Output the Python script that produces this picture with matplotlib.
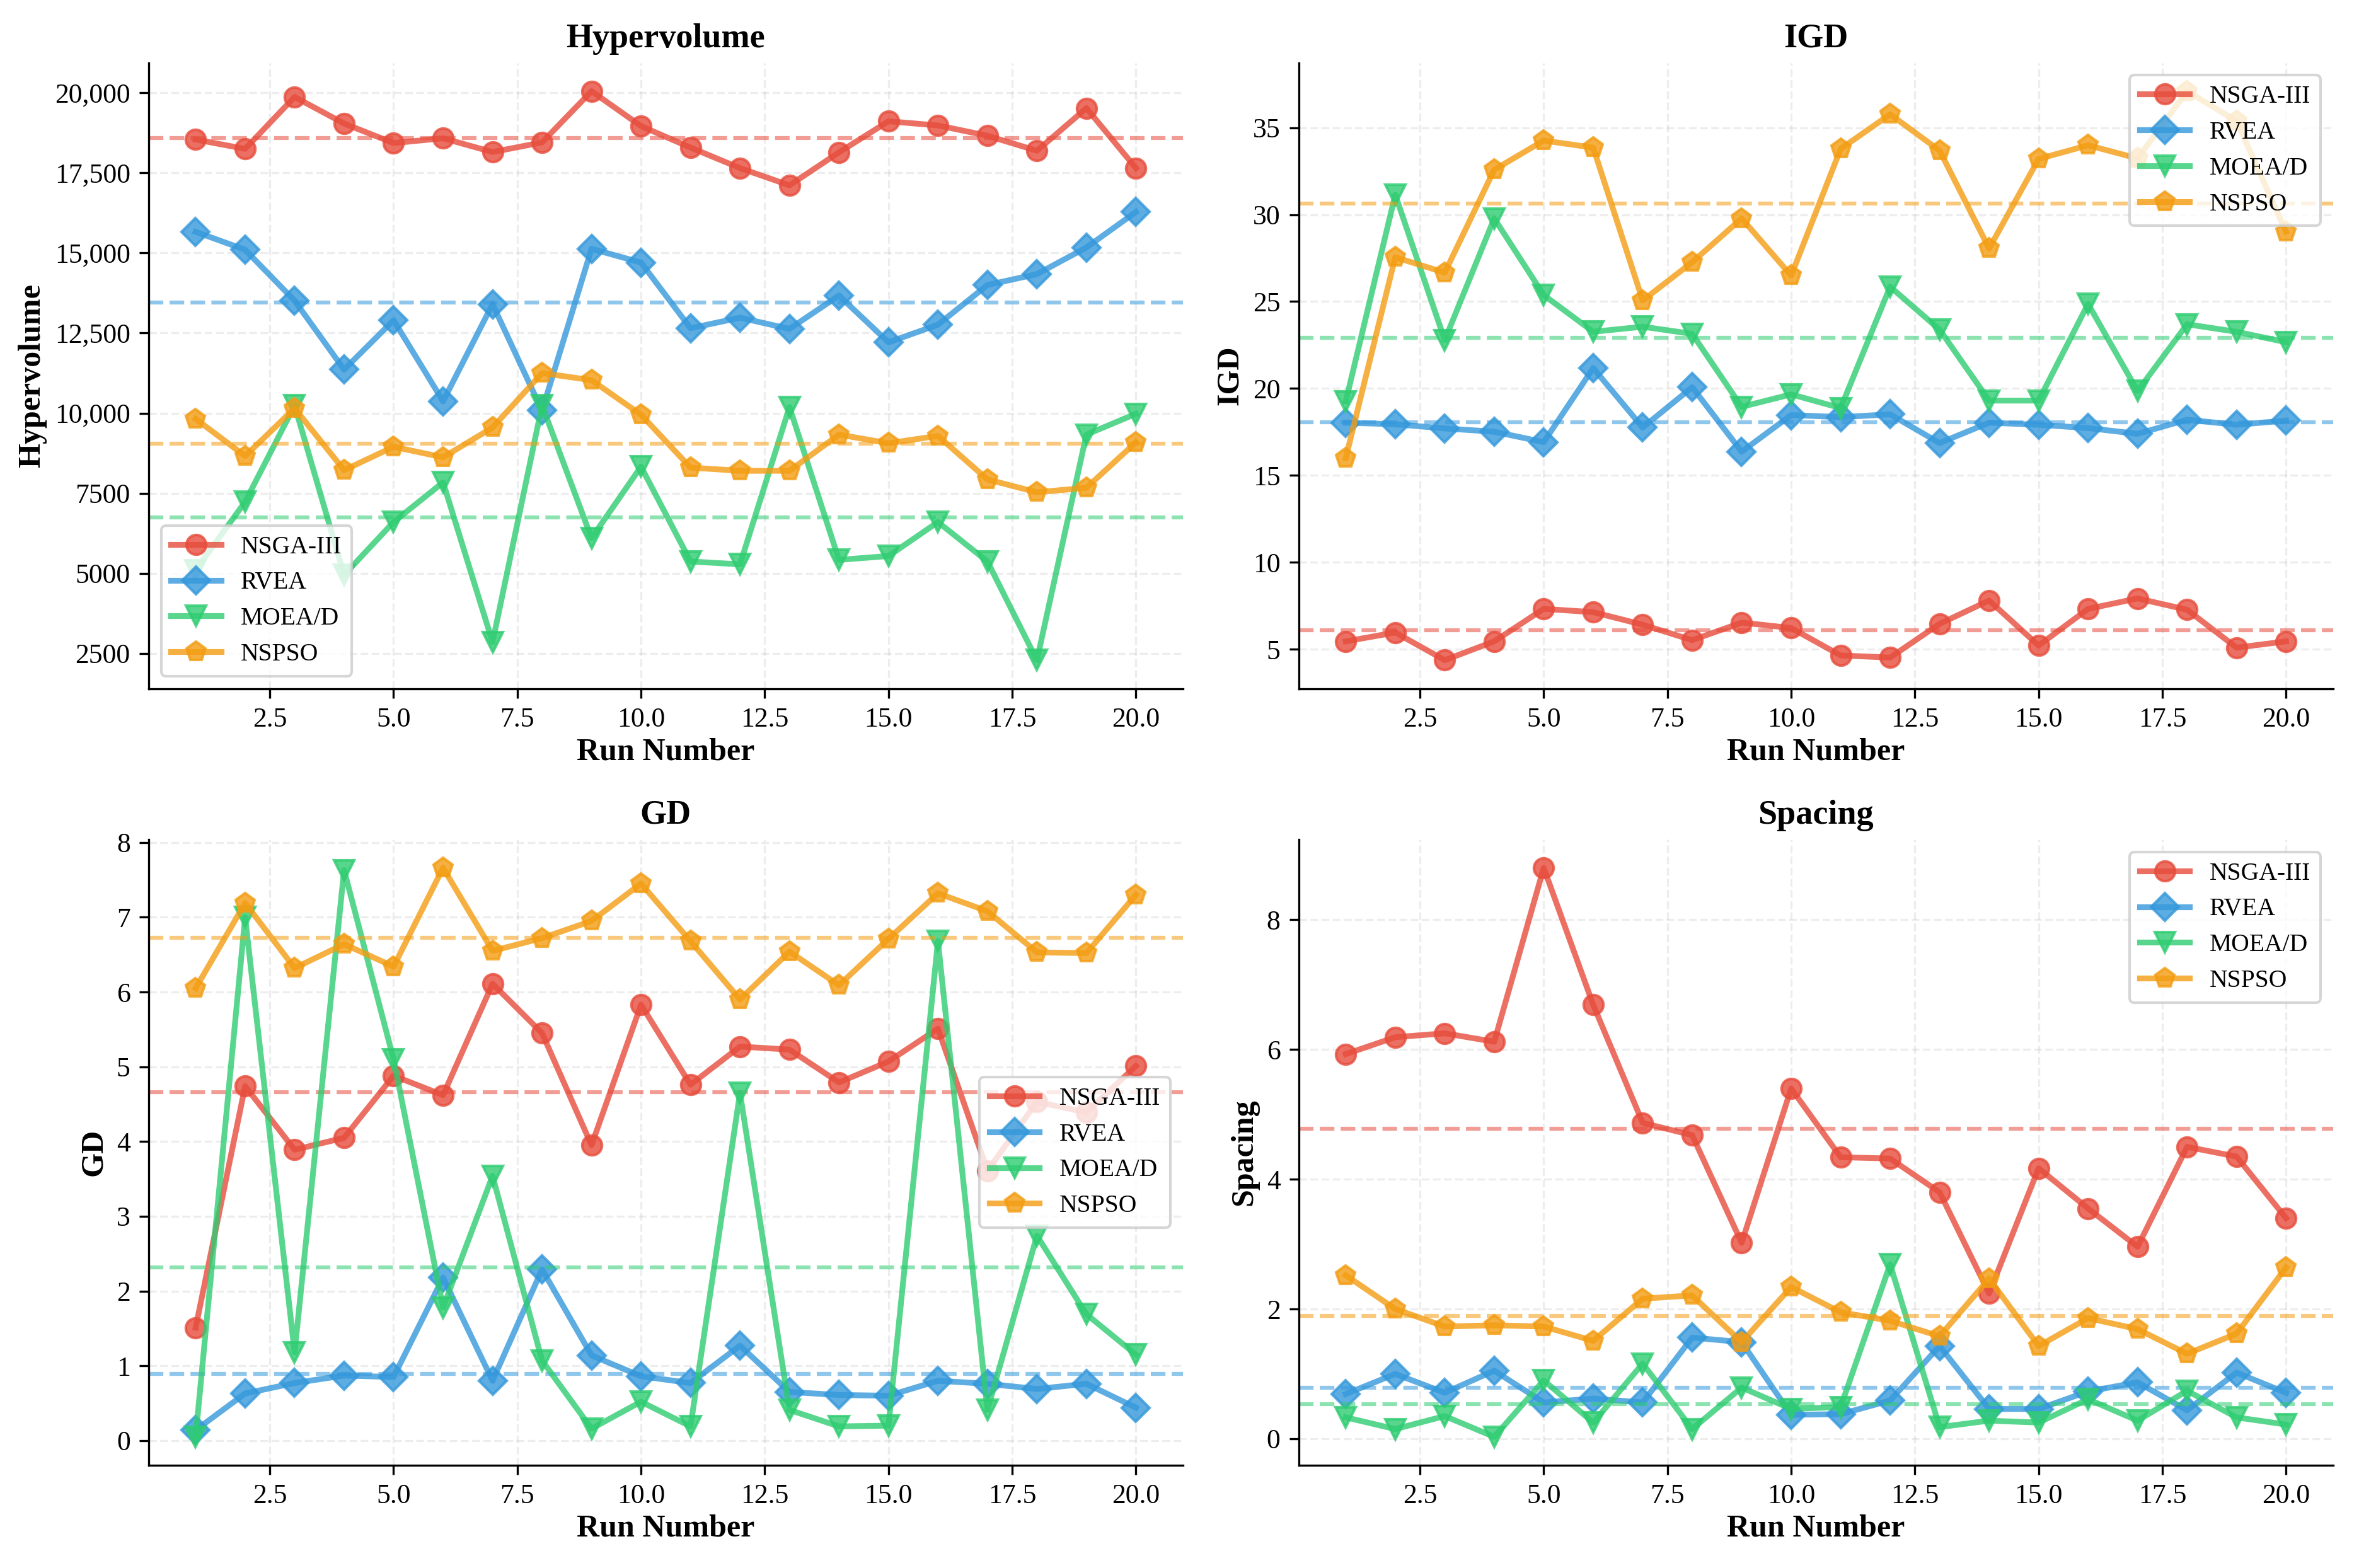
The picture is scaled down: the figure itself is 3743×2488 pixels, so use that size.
import numpy as np
import matplotlib
matplotlib.use("Agg")
import matplotlib.pyplot as plt
from matplotlib.ticker import FuncFormatter

plt.rcParams['font.family'] = ['Liberation Serif', 'DejaVu Serif']

runs = list(range(1, 21))
algorithms = ["NSGA-III", "RVEA", "MOEA/D", "NSPSO"]
colors = ["#e74c3c", "#3498db", "#2ecc71", "#f39c12"]
markers = ["o", "D", "v", "p"]

hv_nsga3 = [18540, 18250, 19870, 19040, 18430, 18580, 18150, 18450, 20050, 18960,
            18290, 17650, 17110, 18140, 19110, 18980, 18660, 18190, 19520, 17650]
hv_rvea = [15660, 15100, 13510, 11360, 12900, 10370, 13400, 10080, 15130, 14700,
           12650, 12980, 12630, 13670, 12210, 12760, 14000, 14340, 15170, 16280]
hv_moead = [5100, 7230, 10240, 4950, 6600, 7840, 2850, 10240, 6100, 8330,
            5370, 5280, 10190, 5420, 5540, 6600, 5370, 2290, 9330, 9980]
hv_nspso = [9820, 8660, 10150, 8220, 8950, 8620, 9550, 11250, 11030, 9950,
            8300, 8200, 8200, 9330, 9060, 9290, 7930, 7530, 7670, 9090]

igd_nsga3 = [5.45, 5.96, 4.37, 5.45, 7.32, 7.13, 6.41, 5.52, 6.53, 6.22,
             4.64, 4.52, 6.46, 7.80, 5.21, 7.32, 7.92, 7.27, 5.09, 5.45]
igd_rvea = [18.03, 17.94, 17.70, 17.51, 16.91, 21.17, 17.75, 20.07, 16.36, 18.47,
            18.35, 18.51, 16.86, 18.03, 17.91, 17.72, 17.39, 18.20, 17.91, 18.15]
igd_moead = [19.26, 31.14, 22.78, 29.78, 25.37, 23.26, 23.55, 23.14, 18.94, 19.66,
             18.87, 25.85, 23.38, 19.30, 19.30, 24.86, 19.85, 23.69, 23.26, 22.66]
igd_nspso = [16.00, 27.55, 26.66, 32.58, 34.26, 33.85, 25.06, 27.26, 29.78, 26.49,
             33.78, 35.77, 33.68, 28.05, 33.20, 33.99, 33.23, 37.10, 35.38, 29.01]

gd_nsga3 = [1.51, 4.74, 3.89, 4.05, 4.88, 4.62, 6.11, 5.45, 3.95, 5.83,
            4.76, 5.27, 5.23, 4.79, 5.07, 5.51, 3.61, 4.53, 4.39, 5.01]
gd_rvea = [0.14, 0.63, 0.77, 0.87, 0.85, 2.18, 0.80, 2.29, 1.14, 0.86,
           0.77, 1.27, 0.65, 0.61, 0.60, 0.80, 0.76, 0.69, 0.76, 0.44]
gd_moead = [0.05, 7.00, 1.18, 7.63, 5.10, 1.78, 3.54, 1.07, 0.16, 0.52,
            0.19, 4.65, 0.41, 0.19, 0.20, 6.68, 0.41, 2.74, 1.69, 1.15]
gd_nspso = [6.05, 7.19, 6.32, 6.64, 6.34, 7.66, 6.55, 6.72, 6.95, 7.45,
            6.68, 5.90, 6.54, 6.09, 6.71, 7.32, 7.08, 6.53, 6.52, 7.30]

sp_nsga3 = [5.93, 6.19, 6.25, 6.12, 8.80, 6.69, 4.87, 4.68, 3.02, 5.40,
            4.34, 4.32, 3.80, 2.24, 4.17, 3.55, 2.96, 4.50, 4.35, 3.40]
sp_rvea = [0.69, 1.00, 0.71, 1.05, 0.56, 0.62, 0.56, 1.56, 1.49, 0.37,
           0.38, 0.59, 1.43, 0.46, 0.46, 0.73, 0.87, 0.44, 1.02, 0.71]
sp_moead = [0.33, 0.15, 0.35, 0.03, 0.90, 0.25, 1.16, 0.15, 0.79, 0.46,
            0.49, 2.69, 0.18, 0.28, 0.25, 0.61, 0.28, 0.74, 0.33, 0.22]
sp_nspso = [2.52, 2.00, 1.73, 1.75, 1.73, 1.51, 2.16, 2.21, 1.49, 2.34,
            1.95, 1.82, 1.58, 2.47, 1.43, 1.86, 1.69, 1.31, 1.62, 2.64]

panels = [
    ("Hypervolume", [hv_nsga3, hv_rvea, hv_moead, hv_nspso], "lower left"),
    ("IGD", [igd_nsga3, igd_rvea, igd_moead, igd_nspso], "upper right"),
    ("GD", [gd_nsga3, gd_rvea, gd_moead, gd_nspso], "center right"),
    ("Spacing", [sp_nsga3, sp_rvea, sp_moead, sp_nspso], "upper right"),
]

fig, axes = plt.subplots(2, 2, figsize=(3743 / 300, 2488 / 300), dpi=300)
fig.subplots_adjust(left=0.063, right=0.989, top=0.960, bottom=0.0655,
                    wspace=0.112, hspace=0.241)


def hv_fmt(x, pos):
    if abs(x) >= 10000:
        return f"{x:,.0f}"
    return f"{x:.0f}"


for ax, (name, series, loc) in zip(axes.flat, panels):
    for vals, alg, col, mk in zip(series, algorithms, colors, markers):
        ax.plot(runs, vals, color=col, marker=mk, linewidth=2.2, markersize=7.5,
                alpha=0.8, label=alg)
        ax.axhline(np.mean(vals), color=col, linestyle="--", linewidth=1.5,
                   alpha=0.55)
    ax.set_title(name, fontsize=13, fontweight="bold")
    ax.set_xlabel("Run Number", fontsize=12, fontweight="bold", labelpad=2)
    ax.set_ylabel(name, fontsize=12, fontweight="bold", labelpad=3)
    ax.grid(True, linestyle="--", alpha=0.22)
    ax.spines["top"].set_visible(False)
    ax.spines["right"].set_visible(False)
    ax.tick_params(labelsize=10.5)
    ax.legend(loc=loc, fontsize=9.5)
    if name == "Hypervolume":
        ax.yaxis.set_major_formatter(FuncFormatter(hv_fmt))

fig.savefig("out.png", dpi=300)
